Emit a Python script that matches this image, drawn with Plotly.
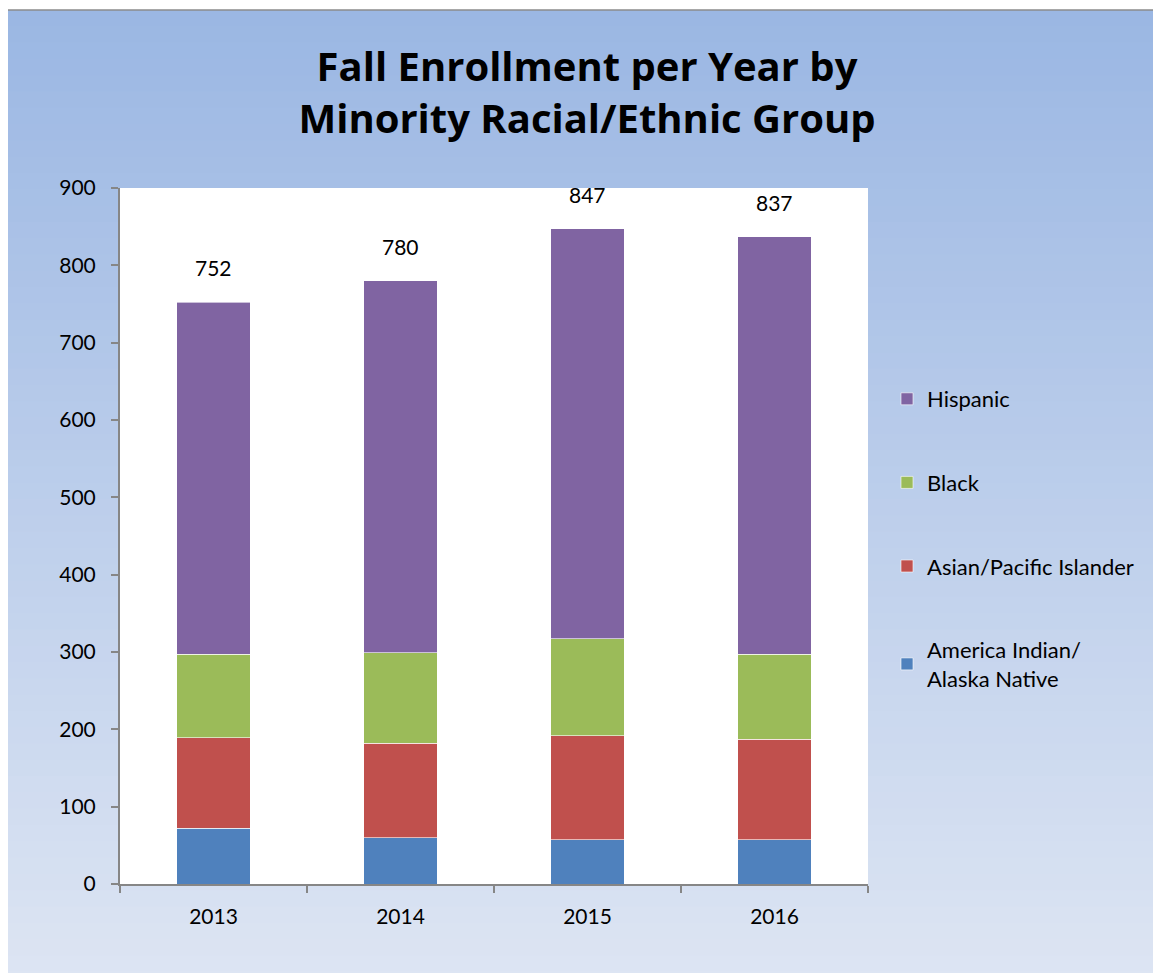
import plotly.graph_objects as go

years = ['2013', '2014', '2015', '2016']
native = [72, 60, 57, 57]
asian = [117, 122, 135, 130]
black = [108, 117, 125, 110]
hispanic = [455, 481, 530, 540]
totals = [752, 780, 847, 837]

series = [
    ('America Indian/<br>Alaska Native', native, '#4F81BD'),
    ('Asian/Pacific Islander', asian, '#C0504D'),
    ('Black', black, '#9BBB59'),
    ('Hispanic', hispanic, '#8064A2'),
]

OFF = 8  # page body margin
W, H = 1161, 973
ml, mt = 120 - OFF, 188 - OFF
pw, ph = 748, 696
mr, mb = W - ml - pw, H - mt - ph

fig = go.Figure()
for i, (name, vals, col) in enumerate(series):
    fig.add_trace(go.Bar(x=years, y=vals, name=name, legendgroup=str(i), legendrank=10 - i,
                         marker=dict(color=col, line=dict(color='rgba(255,255,255,0.6)', width=1)),
                         width=0.395, hoverinfo='y+name'))


# reference pixel -> paper coords
def px2x(p):
    return (p - OFF - ml) / pw


def px2y(p):
    return (mt + ph - (p - OFF)) / ph


top = (155, 183, 227)
bot = (221, 229, 243)
n = 60
y0, y1 = 10, H + 15
shapes = []
shapes.append(dict(type='rect', xref='paper', yref='paper', x0=px2x(-20), x1=px2x(W + 20),
                   y0=px2y(H + 20), y1=px2y(-20), fillcolor='white', line_width=0, layer='below'))
for k in range(n):
    t = k / (n - 1)
    c = tuple(round(top[j] + (bot[j] - top[j]) * t) for j in range(3))
    a = y0 + (y1 - y0) * k / n
    b = y0 + (y1 - y0) * (k + 1) / n + 1
    shapes.append(dict(type='rect', xref='paper', yref='paper', x0=px2x(7), x1=px2x(W + 20),
                       y0=px2y(b), y1=px2y(a), fillcolor='rgb(%d,%d,%d)' % c,
                       line_width=0, layer='below'))
shapes.append(dict(type='rect', xref='paper', yref='paper', x0=px2x(7), x1=px2x(W + 30),
                   y0=px2y(H + 30), y1=px2y(10), fillcolor='rgba(0,0,0,0)',
                   line=dict(color='#8c8c8c', width=1.5), layer='below'))
shapes.append(dict(type='rect', xref='paper', yref='paper', x0=0, x1=1, y0=0, y1=1,
                   fillcolor='white', line_width=0, layer='below'))

# total labels above each stack (x as category index)
annotations = [dict(x=i, y=tot, xref='x', yref='y', text=str(tot), showarrow=False,
                    yanchor='bottom', yshift=20, font=dict(size=21, color='black'))
               for i, tot in enumerate(totals)]

fig.update_layout(
    width=W, height=H,
    barmode='stack',
    margin=dict(l=ml, r=mr, t=mt, b=mb),
    paper_bgcolor='white',
    plot_bgcolor='white',
    font=dict(family='Lato, Open Sans, sans-serif', color='black', size=21),
    title=dict(text='<b>Fall Enrollment per Year by<br>Minority Racial/Ethnic Group</b>',
               x=(587 - OFF) / W, xanchor='center', y=1 - (92 - OFF - 11) / H, yanchor='middle',
               font=dict(family='Open Sans, sans-serif', size=40, color='black')),
    shapes=shapes,
    annotations=annotations,
    showlegend=True,
    legend=dict(x=px2x(887), y=px2y(378), xanchor='left', yanchor='top',
                traceorder='grouped', tracegroupgap=52,
                bgcolor='rgba(0,0,0,0)', font=dict(size=22), itemwidth=30),
    xaxis=dict(type='category', range=[-0.5, 3.5], showline=True, linecolor='#868686',
               linewidth=2, ticks='outside', tickson='boundaries', ticklen=7,
               tickcolor='#868686', tickwidth=2, showgrid=False, tickfont=dict(size=21),
               ticklabelstandoff=13, fixedrange=True),
    yaxis=dict(range=[0, 900], dtick=100, showline=True, linecolor='#868686', linewidth=2,
               ticks='outside', ticklen=7, tickcolor='#868686', tickwidth=2,
               showgrid=False, zeroline=False, tickfont=dict(size=21),
               ticklabelstandoff=11, fixedrange=True),
)

fig.write_html('out.html')
